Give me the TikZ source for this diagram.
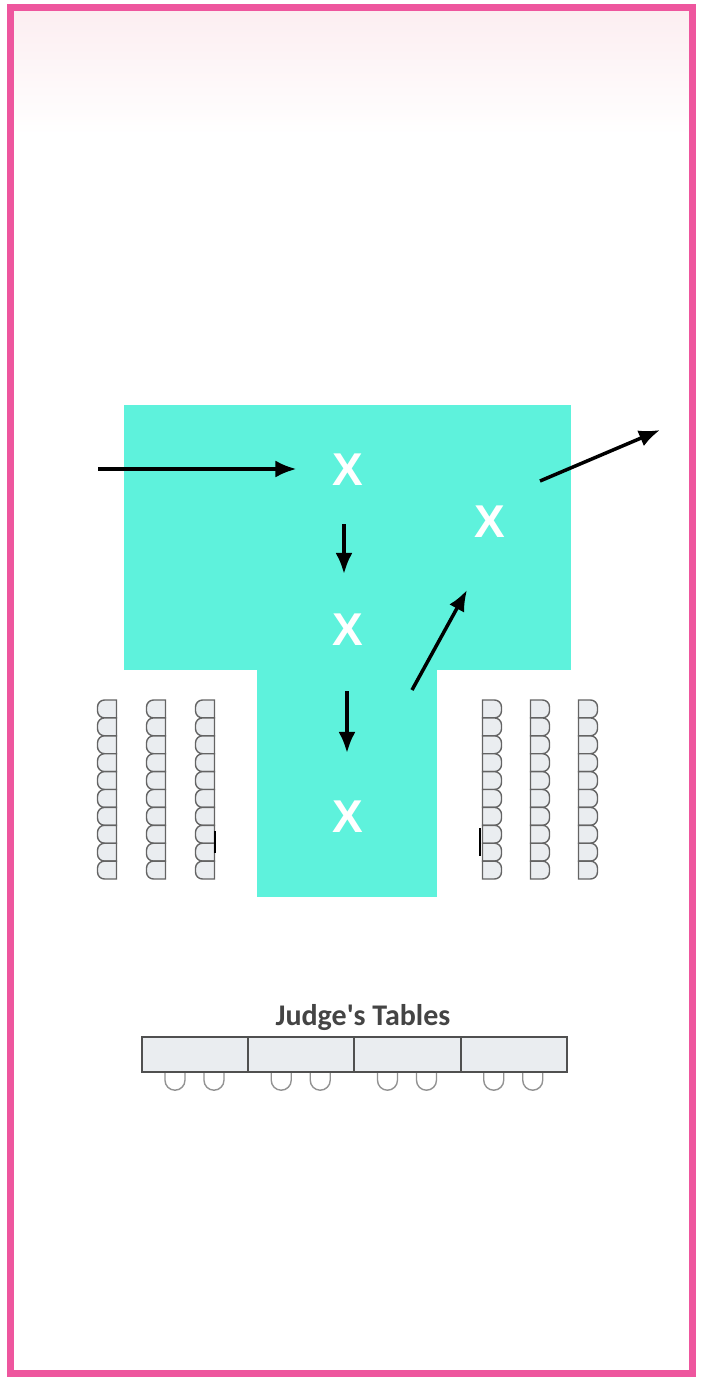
\documentclass[tikz,border=0pt]{standalone}
\usepackage{fontspec}
\setmainfont{Liberation Sans}
\newfontfamily\labelfont{Carlito}
\usepackage{tikz}
\usetikzlibrary{arrows.meta, positioning, calc}
\definecolor{pinkframe}{RGB}{238,86,158}
\definecolor{stage}{RGB}{94,242,220}
\definecolor{fadepink}{RGB}{252,238,241}
\definecolor{chairline}{RGB}{100,100,100}
\definecolor{chairfill}{RGB}{234,237,240}
\definecolor{labelgray}{RGB}{68,68,68}
\tikzstyle{arrow} = [line width=3.5pt, -{Latex[length=21pt,width=17pt]}]
\tikzstyle{spot} = [text=white, font=\bfseries\fontsize{46}{46}\selectfont, inner sep=0pt]
\tikzstyle{chair} = [draw=chairline, fill=chairfill, line width=1.4pt]
\tikzstyle{seat} = [draw=chairline!70, fill=white, line width=1.4pt]
\tikzstyle{jtable} = [draw=chairline!80!black, fill=chairfill, line width=2pt, minimum width=106.25pt, minimum height=35pt, inner sep=0pt, outer sep=0pt]

\begin{document}
\begin{tikzpicture}[x=1pt, y=-1pt]
    \useasboundingbox (0,0) rectangle (702,1379);
    \shade[top color=fadepink, bottom color=white] (11,11) rectangle (691,135);

    % stage
    \fill[stage] (124,405) rectangle (571,670);
    \fill[stage] (257,669) rectangle (437,897);

    \node[spot] (x1) at (348,470) {X};
    \node[spot] (x2) at (348,630) {X};
    \node[spot] (x3) at (490,522) {X};
    \node[spot] (x4) at (348,817) {X};

    \coordinate (door) at (98,469);
    \coordinate (out) at (660,430);
    \coordinate (turn) at (412,690);

    \draw[arrow, shorten >=36pt] (door) -- (door -| x1.west);
    \draw[arrow, shorten <=38pt, shorten >=40pt] ([xshift=-4pt]x1.south) -- ([xshift=-4pt]x2.north);
    \draw[arrow, shorten <=45pt, shorten >=48pt] ([xshift=-1pt]x2.south) -- ([xshift=-1pt]x4.north);
    \draw[arrow] (turn) -- ([xshift=-23pt, yshift=-68pt]x3.center);
    \draw[arrow] ([xshift=50pt, yshift=41pt]x3.center) -- (out);

    % chairs left and right
    \foreach \cx in {107,156,205}{
        \foreach \i in {0,...,9}{
            \pgfmathsetmacro{\cy}{700+17.9*\i}
            \draw[chair] (\cx+9.5,\cy) [rounded corners=7pt] -- (\cx-9.5,\cy) -- (\cx-9.5,\cy+17.9) [sharp corners] -- (\cx+9.5,\cy+17.9) -- cycle;
        }
    }
    \foreach \cx in {492,540,588}{
        \foreach \i in {0,...,9}{
            \pgfmathsetmacro{\cy}{700+17.9*\i}
            \draw[chair] (\cx-9.5,\cy) [rounded corners=7pt] -- (\cx+9.5,\cy) -- (\cx+9.5,\cy+17.9) [sharp corners] -- (\cx-9.5,\cy+17.9) -- cycle;
        }
    }
    \draw[line width=2pt] (215,831) -- (215,853);
    \draw[line width=2pt] (480,828) -- (480,856);

    % judges
    \node[jtable] (t1) at (195.1,1054.5) {};
    \node[jtable, right=0pt of t1] (t2) {};
    \node[jtable, right=0pt of t2] (t3) {};
    \node[jtable, right=0pt of t3] (t4) {};
    \foreach \t in {t1,t2,t3,t4}{
        \foreach \dx in {33,72}{
            \draw[seat] ([xshift=\dx pt]\t.south west) ++(-10,1.2) -- ++(0,7) arc[start angle=180, end angle=0, radius=10] -- ++(0,-7);
        }
    }
    \node[font=\labelfont\bfseries\fontsize{30}{30}\selectfont, text=labelgray, anchor=base] (judges) at (363,1025) {Judge's Tables};

    \draw[pinkframe, line width=6.5pt] (10.5,7.5) rectangle (692.5,1373.5);
\end{tikzpicture}
\end{document}
